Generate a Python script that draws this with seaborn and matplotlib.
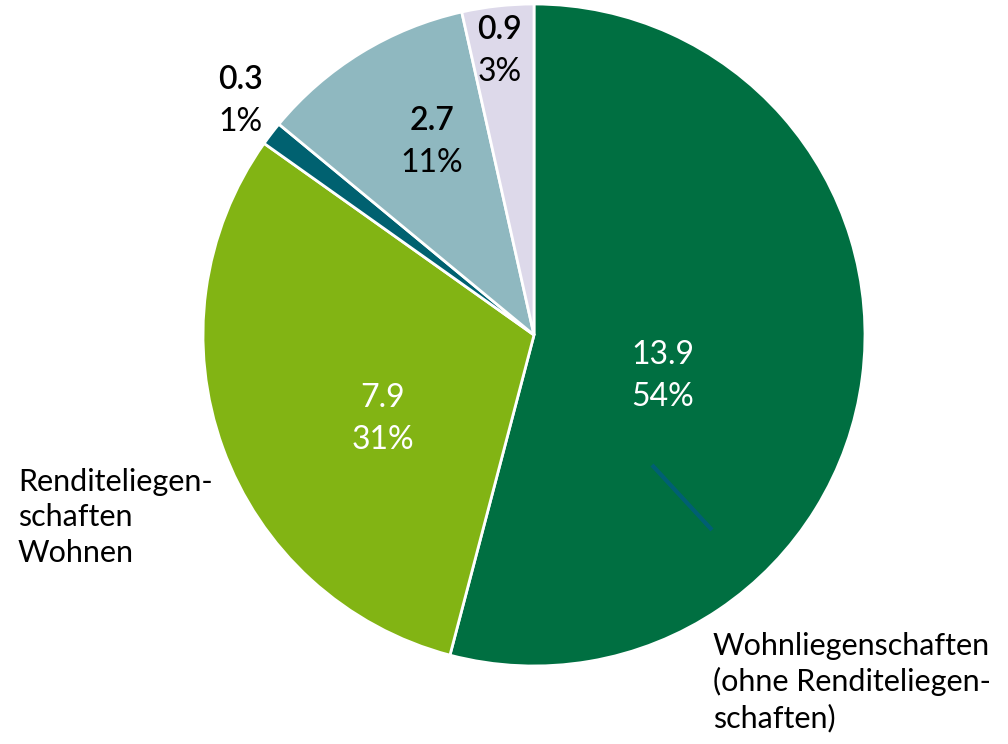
import numpy as np
import seaborn as sns
import matplotlib.pyplot as plt

# Vermögensaufteilung (Mrd.), im Uhrzeigersinn ab 12 Uhr
values = [13.9, 7.9, 0.3, 2.7, 0.9]
percents = ["54%", "31%", "1%", "11%", "3%"]
colors = ["#006F41", "#82B414", "#006170", "#8FB8C0", "#DDD9EA"]
value_colors = ["white", "white", "black", "black", "black"]
value_weights = ["normal", "normal", "semibold", "semibold", "semibold"]

# label placement: radius fraction and angle shift (deg) from wedge middle
label_r = [0.406, 0.518, 1.14, 0.667, 0.873]
label_shift = [-9.0, 8.2, -1.4, -4.0, 0.5]

sns.set_theme(style="white")
plt.rcParams["font.family"] = ["Lato", "DejaVu Sans"]

fig = plt.figure(figsize=(10.08, 7.44), dpi=100)
ax = fig.add_axes([0, 0, 1, 1])

cx, cy, R = 534, 409, 331
wedges, _ = ax.pie(values, colors=sns.color_palette(colors), startangle=90,
                   counterclock=False, center=(cx, cy), radius=R,
                   wedgeprops=dict(edgecolor="white", linewidth=2))
ax.set_xlim(0, 1008)
ax.set_ylim(0, 744)
ax.set_aspect("equal")
ax.axis("off")

for w, v, p, col, fw, r, s in zip(wedges, values, percents, value_colors,
                                  value_weights, label_r, label_shift):
    mid = np.deg2rad((w.theta1 + w.theta2) / 2 + s)
    x = cx + r * R * np.cos(mid)
    y = cy + r * R * np.sin(mid)
    ax.text(x, y + 9, f"{v:.1f}", ha="center", va="baseline", color=col,
            fontsize=23, fontweight=fw)
    ax.text(x, y - 33, p, ha="center", va="baseline", color=col, fontsize=23)

# leader line inside the large wedge
ax.plot([652, 712], [744 - 465, 744 - 530], color="#005F73", lw=3,
        solid_capstyle="butt")

ax.text(18, 744 - 468, "Renditeliegen-\nschaften\nWohnen", ha="left", va="top",
        fontsize=22, linespacing=1.32, color="black")
ax.text(713, 744 - 632, "Wohnliegenschaften\n(ohne Renditeliegen-\nschaften)",
        ha="left", va="top", fontsize=22, linespacing=1.3, color="black")

fig.savefig("out.png", dpi=100)
